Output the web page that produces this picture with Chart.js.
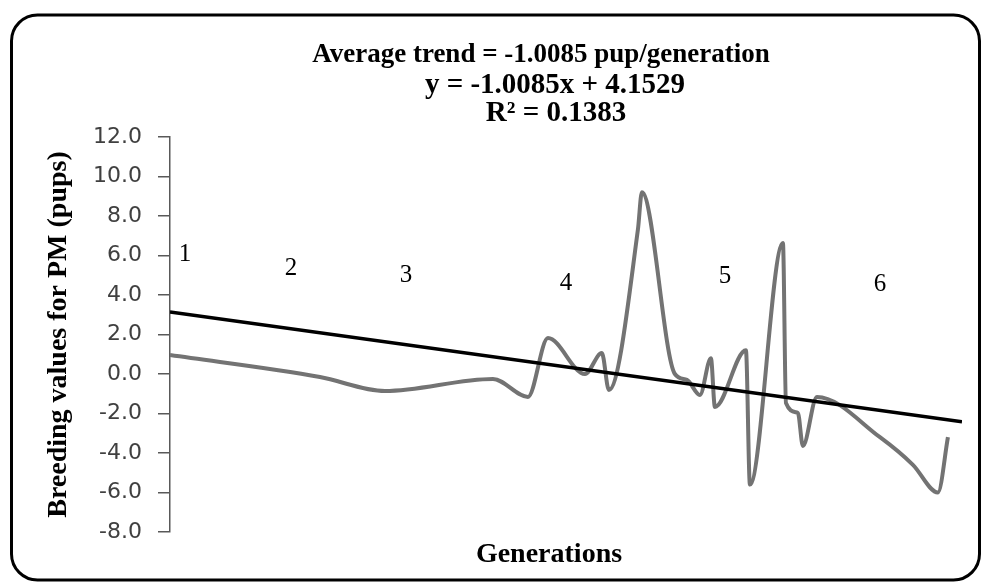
<!DOCTYPE html>
<html>
<head>
<meta charset="utf-8">
<script src="https://cdn.jsdelivr.net/npm/chart.js@4.4.0/dist/chart.umd.min.js"></script>
<style>
  html, body { margin: 0; padding: 0; background: #fff; }
  #wrap { width: 988px; height: 583px; }
</style>
</head>
<body>
<div id="wrap"><canvas id="myChart" width="988" height="583"></canvas></div>
<script>
// breeding values (x in generation units)
var genX = [1.0, 2.045, 2.498, 3.251, 3.495, 3.634, 3.892, 4.010, 4.059, 4.261, 4.289, 4.519, 4.603, 4.693, 4.770, 4.798, 5.014, 5.042, 5.272, 5.293, 5.376, 5.411, 5.509, 5.948, 6.178, 6.352, 6.422];
var breedValues = [0.96, -0.15, -0.86, -0.25, -1.16, 1.82, 0.0, 1.06, -0.81, 7.3, 9.2, 0.0, -0.3, -1.06, 0.8, -1.67, 1.2, -5.6, 6.63, -1.47, -1.97, -3.64, -1.16, -3.2, -4.6, -6.0, -3.2];

// linear trend end points
var trendX = [1.0, 6.52];
var trendY = [3.14, -2.42];

// generation numbers written in the plot
var genNames = ['1', '2', '3', '4', '5', '6'];
var genNameX = [1.105, 1.843, 2.645, 3.76, 4.868, 5.948];
var genNameY = [6.03, 5.37, 5.01, 4.61, 4.96, 4.56];

var yTicks = [-8, -6, -4, -2, 0, 2, 4, 6, 8, 10, 12];

var titleLines = ['Average trend = -1.0085 pup/generation', 'y = -1.0085x + 4.1529', 'R\u00b2 = 0.1383'];
var xTitle = 'Generations';

var serif = '"Liberation Serif", "Times New Roman", serif';

var frame = {
	id: 'frame',
	beforeDraw(chart) {
		var ctx = chart.ctx;
		ctx.save();
		ctx.fillStyle = '#fff';
		ctx.fillRect(0, 0, chart.width, chart.height);
		ctx.beginPath();
		ctx.roundRect(11.5, 15, 968, 565, 26);
		ctx.lineWidth = 3;
		ctx.strokeStyle = '#000';
		ctx.stroke();
		ctx.restore();
	},
	afterDraw(chart) {
		var ctx = chart.ctx;
		var xs = chart.scales.x, ys = chart.scales.y;
		ctx.save();
		ctx.fillStyle = '#000';
		ctx.textAlign = 'center';
		ctx.textBaseline = 'alphabetic';
		ctx.font = 'bold 27px ' + serif;
		ctx.fillText(titleLines[0], 541, 62);
		ctx.font = 'bold 29px ' + serif;
		ctx.fillText(titleLines[1], 555, 93);
		ctx.fillText(titleLines[2], 556, 121);
		ctx.font = 'bold 28px ' + serif;
		ctx.fillText(xTitle, 549, 562);
		ctx.font = '25px ' + serif;
		ctx.textBaseline = 'middle';
		genNames.forEach((n, i) => {
			ctx.fillText(n, xs.getPixelForValue(genNameX[i]), ys.getPixelForValue(genNameY[i]));
		});
		ctx.restore();
	}
};

var ctx = document.getElementById('myChart');
var myChart = new Chart(ctx, {
	type: 'scatter',
	data: {
		datasets: [{
			label: 'Breeding values',
			data: genX.map((x, i) => ({x: x, y: breedValues[i]})),
			showLine: true,
			borderColor: '#737373',
			borderWidth: 4,
			pointRadius: 0,
			cubicInterpolationMode: 'monotone',
			fill: false,
			order: 2
		}, {
			label: 'Trend',
			data: trendX.map((x, i) => ({x: x, y: trendY[i]})),
			showLine: true,
			borderColor: '#000',
			borderWidth: 3.5,
			pointRadius: 0,
			fill: false,
			order: 1
		}]
	},
	options: {
		responsive: false,
		maintainAspectRatio: false,
		animation: false,
		layout: { padding: { top: 137, right: 26, bottom: 12, left: 0 } },
		plugins: {
			legend: { display: false },
			tooltip: { enabled: false },
			title: { display: false }
		},
		scales: {
			x: {
				type: 'linear',
				min: 1,
				max: 6.52,
				afterFit: (s) => { s.height = 39; },
				grid: { display: false },
				border: { display: false },
				ticks: { display: false },
				title: { display: false }
			},
			y: {
				min: -8,
				max: 12,
				afterBuildTicks: (s) => { s.ticks = yTicks.map(v => ({value: v})); },
				afterFit: (s) => { s.width = 170; },
				grid: { drawOnChartArea: false, tickLength: 12, color: '#595959', lineWidth: 1.5 },
				border: { display: true, color: '#595959', width: 1.5 },
				ticks: {
					padding: 16,
					color: '#404040',
					font: { family: '"DejaVu Sans", sans-serif', size: 22 },
					callback: (v) => Number(v).toFixed(1)
				},
				title: {
					display: true,
					text: 'Breeding values for PM (pups)',
					color: '#000',
					font: { family: serif, size: 28, weight: 'bold' },
					padding: { top: 42, bottom: 0 }
				}
			}
		}
	},
	plugins: [frame]
});
</script>
</body>
</html>
